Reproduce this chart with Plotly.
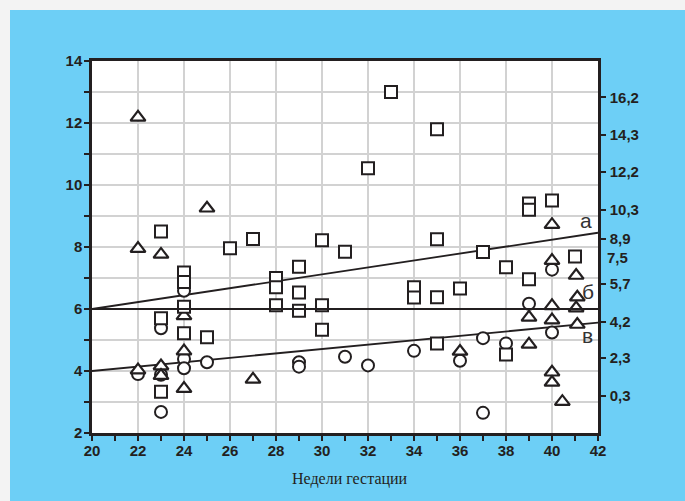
import plotly.graph_objects as go

# ---- data ----
sq_x = [23, 23, 23, 24, 24, 24, 24, 25, 26, 27, 28, 28, 28, 29, 29, 29, 30, 30, 30,
        31, 32, 33, 34, 34, 35, 35, 35, 35, 36, 37, 38, 38, 39, 39, 39, 40, 41]
sq_y = [8.5, 5.7, 3.33, 7.18, 6.87, 6.07, 5.22, 5.09, 7.96, 8.26, 7.0, 6.7, 6.12, 7.36, 6.53, 5.94,
        8.22, 6.12, 5.33, 7.85, 10.54, 13.0, 6.7, 6.37, 11.8, 8.25, 6.38, 4.89, 6.66, 7.84,
        7.35, 4.53, 9.4, 9.2, 6.96, 9.5, 7.69]

ci_x = [22, 23, 23, 23, 24, 24, 24, 25, 29, 29, 31, 32, 34, 36, 37, 37, 38, 39, 40, 40]
ci_y = [3.9, 5.38, 3.88, 2.68, 6.59, 4.39, 4.09, 4.28, 4.28, 4.14, 4.46, 4.18, 4.65, 4.33,
        5.06, 2.65, 4.89, 6.17, 7.27, 5.24]

tr_x = [22, 22, 22, 23, 23, 23, 24, 24, 24, 25, 27, 36, 39, 39, 40, 40, 40, 40, 40, 40,
        40.45, 41.05, 41.1, 41.05, 41.1]
tr_y = [12.18, 7.95, 4.03, 7.76, 4.16, 3.85, 5.78, 4.64, 3.43, 9.25, 3.73, 4.63, 5.73, 4.86,
        8.72, 7.56, 6.1, 5.64, 3.96, 3.63, 3.01, 7.08, 6.38, 6.03, 5.5]

line_x = [20, 42]
line_a = [6.0, 8.46]
line_b = [6.0, 6.0]
line_v = [4.0, 5.56]

right_vals = [12.83, 11.61, 10.42, 9.19, 8.26, 6.81, 5.59, 4.42, 3.19]
right_text = ["16,2", "14,3", "12,2", "10,3", "8,9", "5,7", "4,2", "2,3", "0,3"]
extra_label = ("7,5", 7.65)

line_labels = [("а", 41.47, 8.87), ("б", 41.55, 6.56), ("в", 41.54, 5.16)]

x_title = "Недели гестации"

# ---- style ----
INK = "#231f20"
BLUE = "#6dcff6"
GRID = "#d2d2d2"
W, H = 685, 501
ML, MR, MT, MB = 92, 87, 61, 68
PW, PH = W - ML - MR, H - MT - MB

def px_x(p):
    return (p - ML) / PW

def px_y(p):
    return (H - MB - p) / PH

fig = go.Figure()

for ys, ax in ((line_a, "y"), (line_b, "y2"), (line_v, "y")):
    fig.add_trace(go.Scatter(x=line_x, y=ys, mode="lines", yaxis=ax,
                             line=dict(color=INK, width=1.8), hoverinfo="skip",
                             showlegend=False))

fig.add_trace(go.Scatter(x=ci_x, y=ci_y, mode="markers", showlegend=False,
                         marker=dict(symbol="circle", size=12, color="white",
                                     line=dict(color=INK, width=2))))
fig.add_trace(go.Scatter(x=tr_x, y=tr_y, mode="markers", showlegend=False,
                         marker=dict(symbol="triangle-up", size=13, color="white",
                                     line=dict(color=INK, width=2.2))))
fig.add_trace(go.Scatter(x=sq_x, y=sq_y, mode="markers", showlegend=False,
                         marker=dict(symbol="square", size=12, color="white",
                                     line=dict(color=INK, width=2))))

tickfont = dict(family="Liberation Sans, Arial, sans-serif", size=15, color=INK, weight="bold")

fig.update_layout(
    width=W, height=H,
    margin=dict(l=ML, r=MR, t=MT, b=MB, pad=0),
    paper_bgcolor=BLUE, plot_bgcolor="white",
    xaxis=dict(range=[20, 42], tickvals=list(range(20, 43, 2)), ticks="outside", ticklen=5,
               tickwidth=1.5, tickcolor=INK, showgrid=True, gridcolor=GRID, gridwidth=1.5,
               showline=True, linecolor=INK, linewidth=2.5, mirror=True, zeroline=False,
               tickfont=tickfont, ticklabelstandoff=-3,
               minor=dict(dtick=1, ticks="outside", ticklen=5, tickwidth=1.5, tickcolor=INK,
                          showgrid=False)),
    yaxis=dict(range=[2, 14], tickvals=list(range(2, 15, 2)), ticks="outside", ticklen=5,
               tickwidth=1.5, tickcolor=INK, showgrid=True, gridcolor=GRID, gridwidth=1.5,
               showline=True, linecolor=INK, linewidth=2.5, mirror=True, zeroline=False,
               tickfont=tickfont, ticklabelstandoff=-1,
               minor=dict(dtick=1, ticks="outside", ticklen=5, tickwidth=1.5, tickcolor=INK,
                          showgrid=True, gridcolor=GRID, gridwidth=1.5)),
    yaxis2=dict(range=[2, 14], overlaying="y", side="right", tickvals=right_vals,
                ticktext=right_text, ticks="outside", ticklen=5, tickwidth=1.5, tickcolor=INK,
                showgrid=False, showline=True, linecolor=INK, linewidth=2.5, zeroline=False,
                tickfont=tickfont, ticklabelstandoff=1),
)

ann = []
ann.append(dict(x=1, xref="paper", y=extra_label[1], yref="y", text=extra_label[0],
                showarrow=False, xanchor="left", xshift=7, font=tickfont))
for t, lx, ly in line_labels:
    ann.append(dict(x=lx, y=ly, xref="x", yref="y", text=t, showarrow=False,
                    font=dict(family="Liberation Sans, Arial, sans-serif", size=21, color="#333")))
ann.append(dict(x=px_x(350), y=px_y(479), xref="paper", yref="paper", text=x_title,
                xanchor="center", yanchor="middle", showarrow=False,
                font=dict(family="Liberation Serif, Times New Roman, serif", size=16, color=INK)))
fig.update_layout(annotations=ann)

strip = "#f3f3f3"
fig.add_shape(type="rect", xref="paper", yref="paper", x0=px_x(0), x1=px_x(10),
              y0=px_y(H), y1=px_y(0), fillcolor=strip, line_width=0, layer="below")
fig.add_shape(type="rect", xref="paper", yref="paper", x0=px_x(0), x1=px_x(W),
              y0=px_y(10), y1=px_y(0), fillcolor=strip, line_width=0, layer="below")

fig.write_html("out.html")
